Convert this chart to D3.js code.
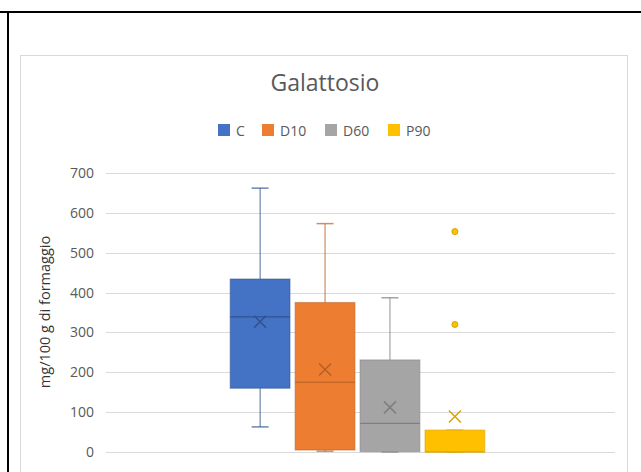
<!DOCTYPE html>
<html>
<head>
<meta charset="utf-8">
<script src="https://cdn.jsdelivr.net/npm/d3@7"></script>
<style>
  html, body { margin: 0; padding: 0; background: #fff; }
  svg { display: block; }
  text { font-family: "Open Sans", "Liberation Sans", sans-serif; }
</style>
</head>
<body>
<svg id="chart" width="641" height="472"></svg>
<script>
// Galattosio content per series (mg/100 g di formaggio)
const categories = ["Galattosio"];
const seriesNames = ["C", "D10", "D60", "P90"];
const seriesColors = ["#4472C4", "#ED7D31", "#A5A5A5", "#FFC000"];
const seriesDark = ["#2F528F", "#B85F22", "#7F7F7F", "#D9A300"];
const whiskerMin = [63, 2, 0, 0];
const quartile1 = [160, 5, 1, 0];
const medians = [339, 175, 72, 0];
const quartile3 = [434, 375, 231, 55];
const whiskerMax = [662, 573, 387, 55];
const means = [327, 207, 112, 89];
const outliers = [[], [], [], [320, 553]];
const yTicks = [0, 100, 200, 300, 400, 500, 600, 700];

const svg = d3.select("#chart");

// page frame lines
svg.append("line").attr("x1", 0).attr("x2", 641).attr("y1", 12).attr("y2", 12)
  .attr("stroke", "#000").attr("stroke-width", 2);
svg.append("line").attr("x1", 8).attr("x2", 8).attr("y1", 11).attr("y2", 472)
  .attr("stroke", "#000").attr("stroke-width", 2);

// chart area border
svg.append("rect").attr("x", 20.5).attr("y", 55.5).attr("width", 607).attr("height", 440)
  .attr("fill", "#fff").attr("stroke", "#D9D9D9").attr("stroke-width", 1);

// title
svg.append("text").attr("x", 325).attr("y", 91).attr("text-anchor", "middle")
  .attr("font-size", 23).attr("fill", "#595959").text("Galattosio");

// scales
const y = d3.scaleLinear().domain([0, 700]).range([452, 173]);
const x0 = d3.scaleBand().domain(categories).range([103, 612]).paddingOuter(0.5).paddingInner(0);
const x1 = d3.scaleBand().domain(seriesNames).range([0, x0.bandwidth()]).paddingInner(0.08).paddingOuter(0);
const plotLeft = 106, plotRight = 615;

// gridlines
svg.append("g").selectAll("line").data(yTicks).join("line")
  .attr("x1", plotLeft).attr("x2", plotRight)
  .attr("y1", d => Math.round(y(d)) + 0.5).attr("y2", d => Math.round(y(d)) + 0.5)
  .attr("stroke", "#D9D9D9").attr("stroke-width", 1);

// y axis labels
const yAxis = d3.axisLeft(y).tickValues(yTicks).tickSize(0).tickPadding(0);
const ag = svg.append("g").attr("transform", "translate(94,0)").call(yAxis);
ag.select(".domain").remove();
ag.selectAll("text").attr("font-size", 14).attr("fill", "#595959")
  .attr("font-family", "'Open Sans', 'Liberation Sans', sans-serif");

// y axis title
svg.append("text").attr("transform", "translate(50,312) rotate(-90)")
  .attr("text-anchor", "middle").attr("font-size", 14.5).attr("fill", "#333333")
  .text("mg/100 g di formaggio");

// legend
const legendX = [218, 262, 325, 388];
const lg = svg.append("g");
seriesNames.forEach((s, i) => {
  lg.append("rect").attr("x", legendX[i]).attr("y", 124).attr("width", 12).attr("height", 12)
    .attr("fill", seriesColors[i]);
  lg.append("text").attr("x", legendX[i] + 18).attr("y", 135.5).attr("font-size", 14)
    .attr("fill", "#595959").text(s);
});

// box plots
const g = svg.append("g");
seriesNames.forEach((s, i) => {
  const left = x0(categories[0]) + x1(s);
  const w = x1.bandwidth();
  const cx = left + w / 2;
  const capW = 17;
  const col = seriesColors[i], dark = seriesDark[i];

  // whiskers
  g.append("line").attr("x1", cx).attr("x2", cx).attr("y1", y(whiskerMax[i])).attr("y2", y(quartile3[i]))
    .attr("stroke", dark).attr("stroke-opacity", 0.85);
  g.append("line").attr("x1", cx).attr("x2", cx).attr("y1", y(quartile1[i])).attr("y2", y(whiskerMin[i]))
    .attr("stroke", dark).attr("stroke-opacity", 0.85);
  [whiskerMax[i], whiskerMin[i]].forEach(v => {
    g.append("line").attr("x1", cx - capW / 2).attr("x2", cx + capW / 2)
      .attr("y1", y(v)).attr("y2", y(v)).attr("stroke", dark).attr("stroke-opacity", 0.7).attr("stroke-width", 1.5);
  });

  // box
  g.append("rect").attr("x", left).attr("y", y(quartile3[i]))
    .attr("width", w).attr("height", y(quartile1[i]) - y(quartile3[i]))
    .attr("fill", col).attr("stroke", dark).attr("stroke-opacity", 0.5).attr("stroke-width", 1.2);

  // median
  g.append("line").attr("x1", left).attr("x2", left + w)
    .attr("y1", y(medians[i])).attr("y2", y(medians[i]))
    .attr("stroke", dark).attr("stroke-width", 1.2);

  // mean marker
  const m = y(means[i]), r = 6;
  g.append("path").attr("d", `M${cx - r},${m - r}L${cx + r},${m + r}M${cx - r},${m + r}L${cx + r},${m - r}`)
    .attr("stroke", dark).attr("stroke-width", 1.5).attr("fill", "none");

  // outliers
  outliers[i].forEach(v => {
    g.append("circle").attr("cx", cx).attr("cy", y(v)).attr("r", 3)
      .attr("fill", col).attr("stroke", dark).attr("stroke-width", 1);
  });
});
</script>
</body>
</html>
